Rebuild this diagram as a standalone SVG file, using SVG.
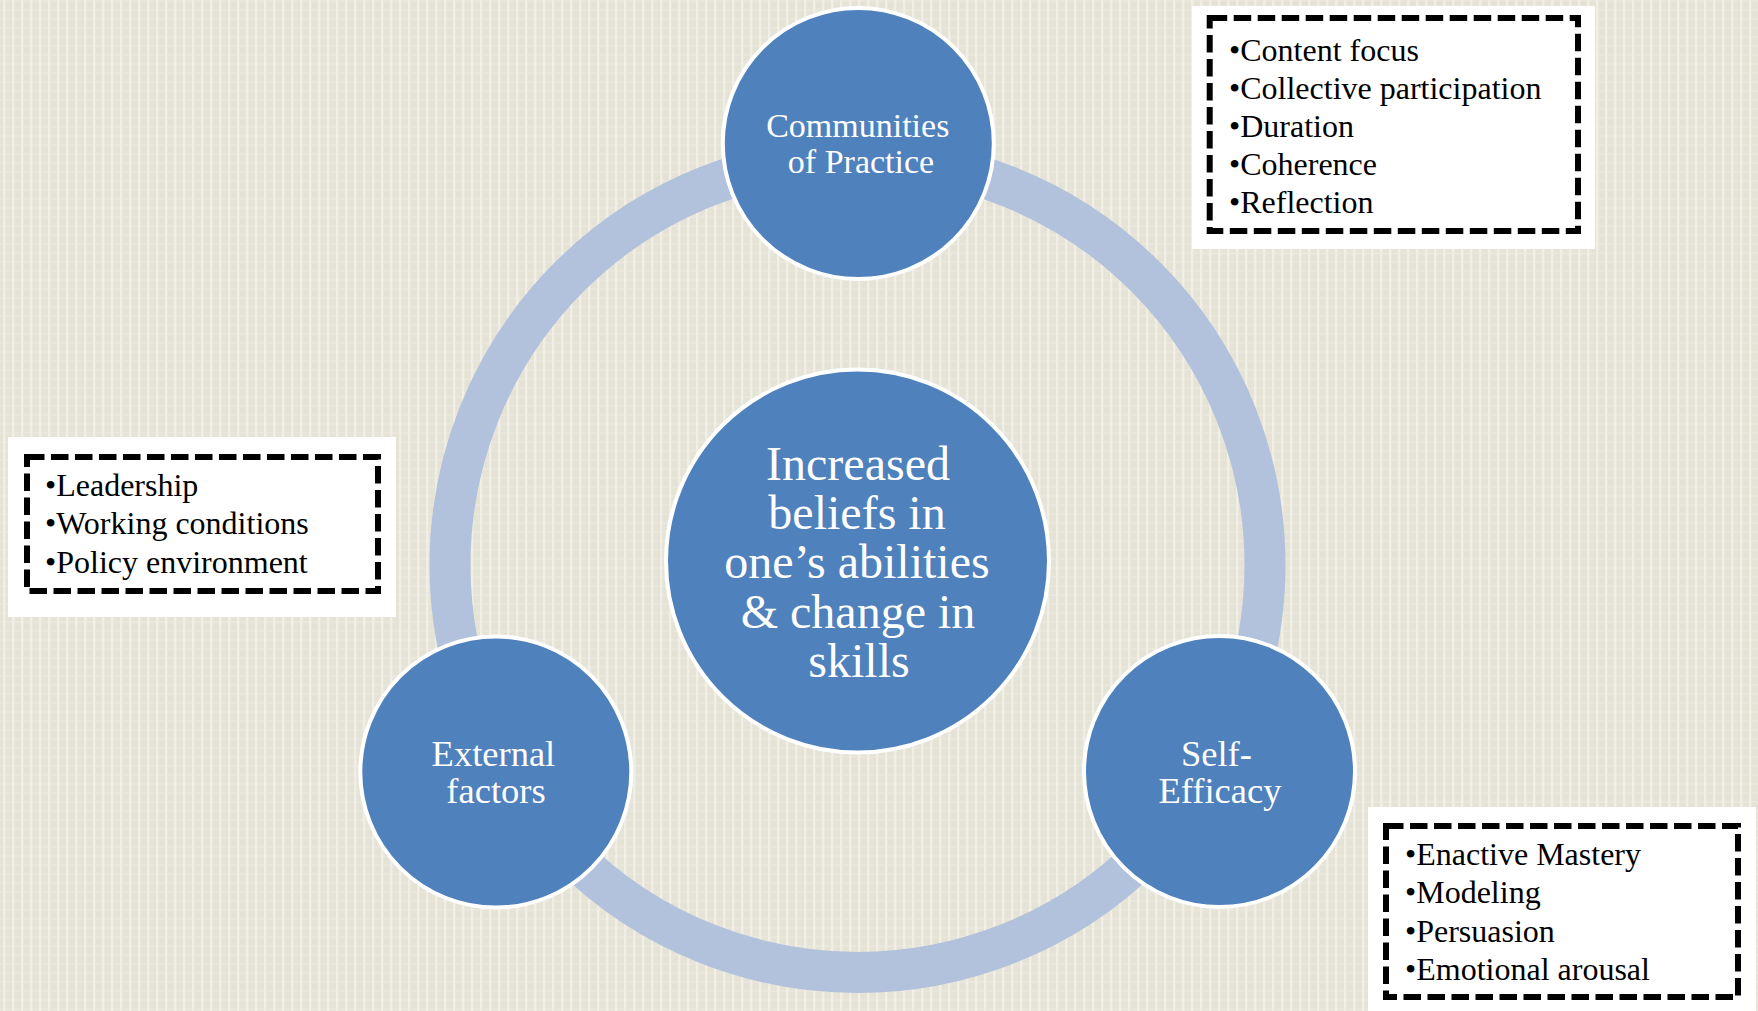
<svg xmlns="http://www.w3.org/2000/svg" width="1758" height="1011" viewBox="0 0 1758 1011">
  <defs>
    <pattern id="linen" width="9" height="9" patternUnits="userSpaceOnUse">
      <rect width="9" height="9" fill="#e5e2d6"/>
      <rect x="0" y="0" width="9" height="2" fill="#e9e7dc"/>
      <rect x="3" y="0" width="2.5" height="9" fill="#f0eee5"/>
    </pattern>
    <style>
      .node { fill: #4f81bd; stroke: #ffffff; stroke-width: 4; }
      .label { fill: #ffffff; font-family: "Liberation Serif", "Times New Roman", serif; text-anchor: middle; }
      .panel { fill: #ffffff; }
      .dash { fill: none; stroke: #000000; stroke-width: 6; stroke-dasharray: 17.5 6.5; }
      .item { fill: #000000; font-family: "Liberation Serif", "Times New Roman", serif; font-size: 32px; }
    </style>
  </defs>

  <rect width="1758" height="1011" fill="url(#linen)"/>

  <!-- cycle ring linking the three outer nodes -->
  <g id="connectors">
    <circle cx="857.5" cy="565" r="407.5" fill="none" stroke="#b2c2dc" stroke-width="41"/>
  </g>

  <g id="node-center">
    <circle class="node" cx="857.5" cy="561" r="191.5"/>
    <text class="label" font-size="48">
      <tspan x="864" y="480">Increased</tspan>
      <tspan x="863" y="528.5">beliefs in</tspan>
      <tspan x="863" y="578">one’s abilities</tspan>
      <tspan x="864" y="628">&amp; change in</tspan>
      <tspan x="859" y="677">skills</tspan>
    </text>
  </g>

  <g id="node-communities">
    <circle class="node" cx="858.3" cy="143.5" r="135.5"/>
    <text class="label" font-size="34">
      <tspan x="862" y="137">Communities</tspan>
      <tspan x="861" y="173">of Practice</tspan>
    </text>
  </g>

  <g id="node-external">
    <circle class="node" cx="495.8" cy="772" r="135.5"/>
    <text class="label" font-size="36.5">
      <tspan x="498" y="766">External</tspan>
      <tspan x="496" y="803">factors</tspan>
    </text>
  </g>

  <g id="node-self-efficacy">
    <circle class="node" cx="1219.5" cy="771.5" r="135.5"/>
    <text class="label" font-size="36.5">
      <tspan x="1221" y="766">Self-</tspan>
      <tspan x="1220" y="803">Efficacy</tspan>
    </text>
  </g>

  <g id="list-communities">
    <rect class="panel" x="1192" y="6" width="403" height="243"/>
    <rect class="dash" x="1209.7" y="18" width="368.3" height="213"/>
    <text class="item">
      <tspan x="1229" y="60.5">•Content focus</tspan>
      <tspan x="1229" y="98.5">•Collective participation</tspan>
      <tspan x="1229" y="137">•Duration</tspan>
      <tspan x="1229" y="175">•Coherence</tspan>
      <tspan x="1229" y="213">•Reflection</tspan>
    </text>
  </g>

  <g id="list-external">
    <rect class="panel" x="8" y="437" width="388" height="180"/>
    <rect class="dash" x="27" y="457" width="351" height="134"/>
    <text class="item">
      <tspan x="45" y="495.5">•Leadership</tspan>
      <tspan x="45" y="534">•Working conditions</tspan>
      <tspan x="45" y="572.5">•Policy environment</tspan>
    </text>
  </g>

  <g id="list-self-efficacy">
    <rect class="panel" x="1368" y="807" width="388" height="210"/>
    <rect class="dash" x="1386" y="826" width="352" height="171"/>
    <text class="item">
      <tspan x="1405" y="865">•Enactive Mastery</tspan>
      <tspan x="1405" y="903">•Modeling</tspan>
      <tspan x="1405" y="941.5">•Persuasion</tspan>
      <tspan x="1405" y="980">•Emotional arousal</tspan>
    </text>
  </g>
</svg>
